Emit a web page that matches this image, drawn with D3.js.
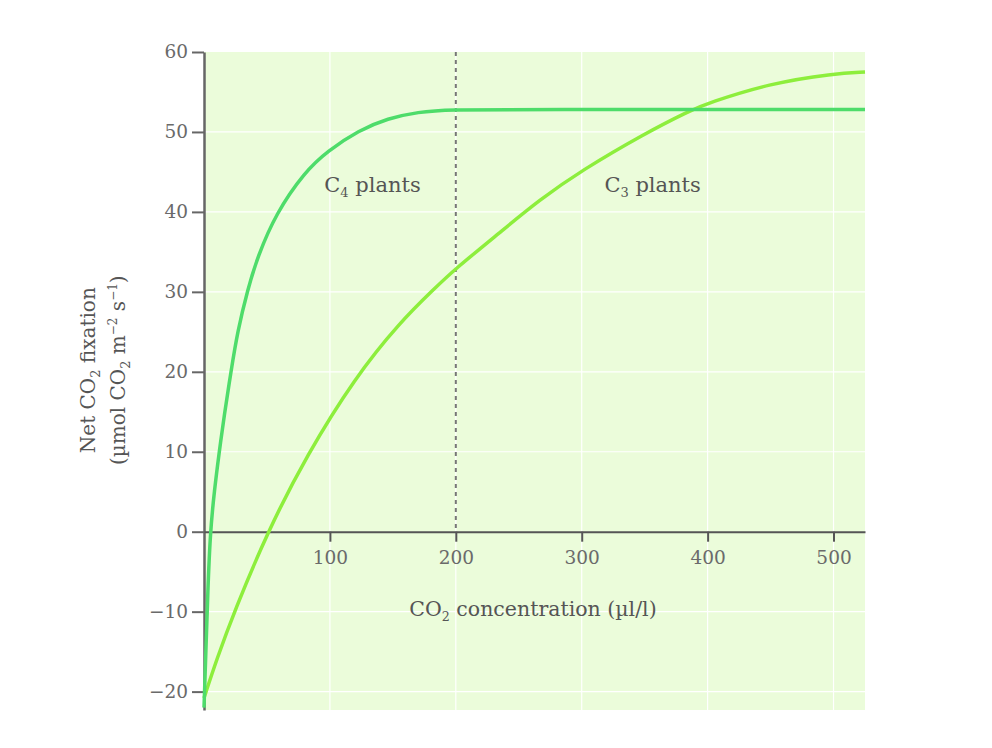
<!DOCTYPE html>
<html>
<head>
<meta charset="utf-8">
<script src="https://cdn.jsdelivr.net/npm/d3@7"></script>
<style>
  body { margin: 0; background: #fff; }
  svg text { font-family: "DejaVu Serif", "Liberation Serif", serif; }
</style>
</head>
<body>
<script>
// CO2 concentration (µl/l) and net fixation readings for each curve
const c4X = [0, 1.5, 3, 5, 8.2, 12.1, 16.1, 21.4, 26.7, 34.7, 42.6, 57.1, 80, 98, 123, 146, 170, 195, 250, 525];
const c4Y = [-22, -15, -7.5, 0, 5.1, 10, 14.6, 20, 25.1, 30.3, 34.4, 39.8, 45, 47.6, 50.2, 51.7, 52.5, 52.8, 52.8, 52.8];
const c3X = [0, 10, 24, 50.5, 81.7, 120, 155.6, 183, 199, 234.8, 266.4, 300, 350, 385, 400, 450, 500, 525];
const c3Y = [-20.8, -16, -10, 0, 9.6, 19.3, 26.2, 30.4, 32.8, 37.4, 41.5, 45.2, 49.8, 52.6, 53.6, 56.1, 57.3, 57.5];
const xTicks = [100, 200, 300, 400, 500];
const yTicks = [-20, -10, 0, 10, 20, 30, 40, 50, 60];
const markerX = 200;

const width = 992, height = 748;
const margin = {top: 52, right: 127, bottom: 38, left: 204};

const x = d3.scaleLinear([0, 525], [margin.left, width - margin.right]);
const y = d3.scaleLinear([-22.3, 60], [height - margin.bottom, margin.top]);

const svg = d3.select("body").append("svg")
    .attr("width", width)
    .attr("height", height)
    .attr("viewBox", [0, 0, width, height]);

// plot background
svg.append("rect")
    .attr("x", x(0))
    .attr("y", y(60))
    .attr("width", x(525) - x(0))
    .attr("height", y(-22.3) - y(60))
    .attr("fill", "#ebfcda");

// faint white grid
svg.append("g")
    .attr("stroke", "#fff")
    .attr("stroke-width", 1.2)
  .call(g => g.selectAll("line.v")
    .data(xTicks)
    .join("line")
      .attr("x1", d => x(d)).attr("x2", d => x(d))
      .attr("y1", y(60)).attr("y2", y(-22.3)))
  .call(g => g.selectAll("line.h")
    .data(yTicks.filter(d => d !== 0 && d !== 60))
    .join("line")
      .attr("x1", x(0)).attr("x2", x(525))
      .attr("y1", d => y(d)).attr("y2", d => y(d)));

// dashed marker at 200
svg.append("line")
    .attr("x1", x(markerX)).attr("x2", x(markerX))
    .attr("y1", y(60)).attr("y2", y(0))
    .attr("stroke", "#777")
    .attr("stroke-width", 2)
    .attr("stroke-dasharray", "4,4");

const tickFont = g => g.selectAll(".tick text")
    .attr("fill", "#6a6a6a")
    .attr("font-size", 18.5)
    .style("font-family", "DejaVu Serif, serif");

// y axis
svg.append("g")
    .attr("transform", `translate(${x(0)},0)`)
    .call(d3.axisLeft(y).tickValues(yTicks).tickSize(12).tickPadding(4).tickSizeOuter(0)
      .tickFormat(d => d < 0 ? "\u2212" + Math.abs(d) : d))
    .call(g => g.select(".domain").attr("stroke", "#666").attr("stroke-width", 2.5))
    .call(g => g.selectAll(".tick line").attr("stroke", "#666").attr("stroke-width", 2))
    .call(tickFont);

// x axis at y = 0
svg.append("g")
    .attr("transform", `translate(0,${y(0)})`)
    .call(d3.axisBottom(x).tickValues(xTicks).tickSize(10).tickPadding(9).tickSizeOuter(0))
    .call(g => g.select(".domain").attr("stroke", "#555").attr("stroke-width", 2))
    .call(g => g.selectAll(".tick line").attr("stroke", "#555").attr("stroke-width", 2))
    .call(tickFont);

const line = d3.line()
    .x(d => x(d[0]))
    .y(d => y(d[1]))
    .curve(d3.curveBasis);

svg.append("path")
    .datum(d3.zip(c3X, c3Y))
    .attr("fill", "none")
    .attr("stroke", "#8dee3c")
    .attr("stroke-width", 3.5)
    .attr("d", line);

svg.append("path")
    .datum(d3.zip(c4X, c4Y))
    .attr("fill", "none")
    .attr("stroke", "#4edc6a")
    .attr("stroke-width", 3.5)
    .attr("d", line);

// text with one subscript
function subLabel(px, py, main, sub, rest, size) {
  const t = svg.append("text")
      .attr("x", px).attr("y", py)
      .attr("fill", "#555")
      .attr("font-size", size);
  t.append("tspan").text(main);
  t.append("tspan").attr("font-size", size * 0.62).attr("dy", size * 0.25).text(sub);
  t.append("tspan").attr("dy", -size * 0.25).text(rest);
  return t;
}
subLabel(x(95.5), y(42.5), "C", "4", " plants", 21);
subLabel(x(318), y(42.5), "C", "3", " plants", 21);

// x axis title
subLabel(x(163), y(-10.5), "CO", "2", " concentration (\u00b5l/l)", 20.5);

// y axis title, two rotated lines
const yt = svg.append("g")
    .attr("transform", `translate(95,${y(20.2)}) rotate(-90)`);
const l1 = yt.append("text").attr("text-anchor", "middle").attr("fill", "#555").attr("font-size", 20);
l1.append("tspan").text("Net CO");
l1.append("tspan").attr("font-size", 13).attr("dy", 5).text("2");
l1.append("tspan").attr("dy", -5).text(" fixation");
const l2 = yt.append("text").attr("text-anchor", "middle").attr("y", 30).attr("fill", "#555").attr("font-size", 20);
l2.append("tspan").text("(\u00b5mol CO");
l2.append("tspan").attr("font-size", 13).attr("dy", 5).text("2");
l2.append("tspan").attr("dy", -5).text(" m");
l2.append("tspan").attr("font-size", 12).attr("dy", -8).text("\u22122");
l2.append("tspan").attr("dy", 8).text(" s");
l2.append("tspan").attr("font-size", 12).attr("dy", -8).text("\u22121");
l2.append("tspan").attr("dy", 8).text(")");
</script>
</body>
</html>
